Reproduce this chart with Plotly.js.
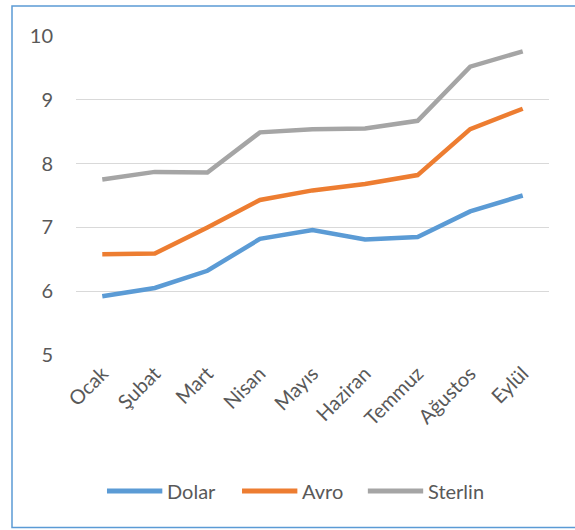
<!DOCTYPE html>
<html>
<head>
<meta charset="utf-8">
<script src="https://cdn.plot.ly/plotly-3.0.1.min.js"></script>
<style>html,body{margin:0;padding:0;background:#fff;}#chart{width:575px;height:530px;}</style>
</head>
<body>
<div id="chart"></div>
<script>
const months = ["Ocak","Şubat","Mart","Nisan","Mayıs","Haziran","Temmuz","Ağustos","Eylül"];
const seriesNames = ["Dolar", "Avro", "Sterlin"];
const dolar = [5.92, 6.05, 6.32, 6.82, 6.96, 6.81, 6.85, 7.25, 7.50];
const avro = [6.58, 6.59, 7.00, 7.43, 7.58, 7.68, 7.82, 8.54, 8.86];
const sterlin = [7.75, 7.87, 7.86, 8.49, 8.54, 8.55, 8.67, 9.52, 9.76];
const yTicks = [5, 6, 7, 8, 9, 10];
const colors = ["#5B9BD5", "#ED7D31", "#A5A5A5"];

const font = "Lato, 'Liberation Sans', sans-serif";
const series = [dolar, avro, sterlin];
const data = series.map((y, i) => ({type: "scatter", mode: "lines", name: seriesNames[i],
  x: months, y: y, line: {color: colors[i], width: 4.5}, hoverinfo: "skip"}));

// custom legend (long line samples like the reference)
const legX = [0.0655, 0.351, 0.617];
const legLen = 0.117;
const legY = -0.4263;
const shapes = [{type: "rect", xref: "paper", yref: "paper",
  x0: -0.1353, x1: 1.06, y0: -0.5408, y1: 1.094,
  line: {color: "#5B9BD5", width: 1.5}, fillcolor: "rgba(0,0,0,0)"}];
const annotations = [];
seriesNames.forEach((n, i) => {
  shapes.push({type: "line", xref: "paper", yref: "paper", x0: legX[i], x1: legX[i] + legLen,
    y0: legY, y1: legY, line: {color: colors[i], width: 5}});
  annotations.push({xref: "paper", yref: "paper", x: legX[i] + legLen + 0.006, y: legY,
    xanchor: "left", yanchor: "middle", text: n, showarrow: false,
    font: {family: font, size: 20, color: "#595959"}});
});

const layout = {
  width: 575, height: 530,
  margin: {l: 76, r: 26, t: 36, b: 175},
  paper_bgcolor: "#fff", plot_bgcolor: "#fff",
  font: {family: font, size: 20, color: "#595959"},
  xaxis: {type: "category", range: [-0.5, 8.5], tickangle: -45, showgrid: false, zeroline: false,
    showline: false, ticks: "", ticklabelstandoff: 2, tickfont: {size: 20, color: "#595959"}, fixedrange: true},
  yaxis: {range: [5, 10], tickvals: yTicks, ticktext: yTicks.map(String), showgrid: true,
    gridcolor: "#D9D9D9", gridwidth: 1.2, zeroline: false, showline: false, ticks: "",
    ticklabelstandoff: 22, tickfont: {size: 20, color: "#595959"}, fixedrange: true},
  showlegend: false,
  shapes: shapes,
  annotations: annotations
};
Plotly.newPlot("chart", data, layout, {displayModeBar: false, staticPlot: true});
</script>
</body>
</html>
